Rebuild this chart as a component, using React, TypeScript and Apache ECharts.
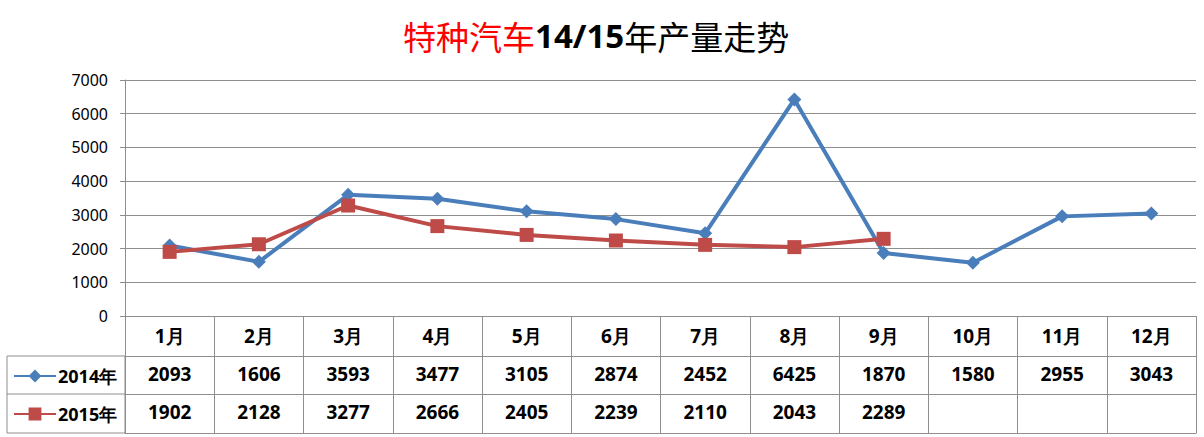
import React, { useEffect, useRef } from 'react';
import * as echarts from 'echarts';

const months = ['1月', '2月', '3月', '4月', '5月', '6月', '7月', '8月', '9月', '10月', '11月', '12月'];
const output2014 = [2093, 1606, 3593, 3477, 3105, 2874, 2452, 6425, 1870, 1580, 2955, 3043];
const output2015 = [1902, 2128, 3277, 2666, 2405, 2239, 2110, 2043, 2289, null, null, null];

const lineGray = '#8e8e8e';
const cellFont = { fontSize: 19, fontWeight: 'bold' as const, color: '#000', fontFamily: 'Noto Sans' };

const App = () => {
  const chartRef = useRef<HTMLDivElement>(null);

  useEffect(() => {
    if (!chartRef.current) return;
    const chart = echarts.init(chartRef.current, null, { renderer: 'svg' });

    const rowAxis = (offset: number, values: (number | null)[] | null) => ({
      type: 'category',
      gridIndex: 0,
      position: 'bottom',
      offset,
      data: months,
      boundaryGap: true,
      axisLine: { show: true, lineStyle: { color: lineGray, width: 1 } },
      axisTick: { show: false },
      axisLabel: values
        ? {
            show: true,
            interval: 0,
            margin: 18,
            verticalAlign: 'middle',
            ...cellFont,
            formatter: (_: string, i: number) => (values[i] == null ? '' : String(values[i])),
          }
        : { show: false },
      splitLine: { show: false },
    });

    const option: any = {
      animation: false,
      backgroundColor: '#fff',
      title: {
        text: '{r|特种汽车}{b|14/15}{n|年产量走势}',
        left: 398,
        top: 14,
        textStyle: {
          fontSize: 32,
          fontWeight: 'normal',
          rich: {
            r: { color: '#ff0000', fontSize: 33, fontWeight: 'normal', fontFamily: 'Noto Sans CJK SC' },
            b: { color: '#000', fontSize: 33, fontWeight: 'bold', fontFamily: 'Noto Sans' },
            n: { color: '#000', fontSize: 33, fontWeight: 'normal', fontFamily: 'Noto Sans CJK SC' },
          },
        },
      },
      legend: [
        {
          data: ['2014年'],
          left: 8,
          top: 360,
          itemWidth: 42,
          itemHeight: 16,
          itemGap: 0,
          textStyle: { ...cellFont, fontSize: 18, lineHeight: 22, padding: [0, 0, 0, -3] },
        },
        {
          data: ['2015年'],
          left: 8,
          top: 398,
          itemWidth: 42,
          itemHeight: 16,
          itemGap: 0,
          textStyle: { ...cellFont, fontSize: 18, lineHeight: 22, padding: [0, 0, 0, -3] },
        },
      ],
      grid: { left: 125, right: 8, top: 80, bottom: 121, containLabel: false },
      xAxis: [
        {
          type: 'category',
          position: 'bottom',
          data: months,
          boundaryGap: true,
          axisLine: { show: true, lineStyle: { color: lineGray, width: 1 } },
          axisTick: { show: true, alignWithLabel: false, interval: 0, length: 117, lineStyle: { color: lineGray } },
          axisLabel: { interval: 0, margin: 20, verticalAlign: 'middle', ...cellFont },
          splitLine: { show: false },
        },
        rowAxis(40, output2014),
        rowAxis(78, output2015),
        rowAxis(117, null),
      ],
      yAxis: {
        type: 'value',
        min: 0,
        max: 7000,
        interval: 1000,
        axisLine: { show: true, lineStyle: { color: lineGray } },
        axisTick: { show: true, length: 5, lineStyle: { color: lineGray } },
        axisLabel: {
          margin: 17,
          fontSize: 16,
          color: '#000',
          fontFamily: 'Noto Sans',
          formatter: (v: number) => String(v),
        },
        splitLine: { show: true, lineStyle: { color: lineGray, width: 1 } },
      },
      graphic: [
        {
          type: 'rect',
          shape: { x: 7, y: 356, width: 118, height: 77 },
          style: { fill: 'none', stroke: lineGray, lineWidth: 1 },
        },
        {
          type: 'line',
          shape: { x1: 7, y1: 394, x2: 125, y2: 394 },
          style: { stroke: lineGray, lineWidth: 1 },
        },
      ],
      series: [
        {
          name: '2014年',
          type: 'line',
          data: output2014,
          symbol: 'diamond',
          symbolSize: 14,
          color: '#4a7ebb',
          lineStyle: { width: 4, color: '#4a7ebb' },
          itemStyle: { color: '#4a7ebb' },
        },
        {
          name: '2015年',
          type: 'line',
          data: output2015,
          symbol: 'rect',
          symbolSize: 14,
          color: '#be4b48',
          lineStyle: { width: 4, color: '#be4b48' },
          itemStyle: { color: '#be4b48' },
        },
      ],
    };

    chart.setOption(option);

    return () => {
      chart.dispose();
    };
  }, []);

  return (
    <div
      ref={chartRef}
      style={{ position: 'absolute', left: 0, top: 0, width: 1204, height: 437, background: '#fff' }}
    />
  );
};

export default App;
